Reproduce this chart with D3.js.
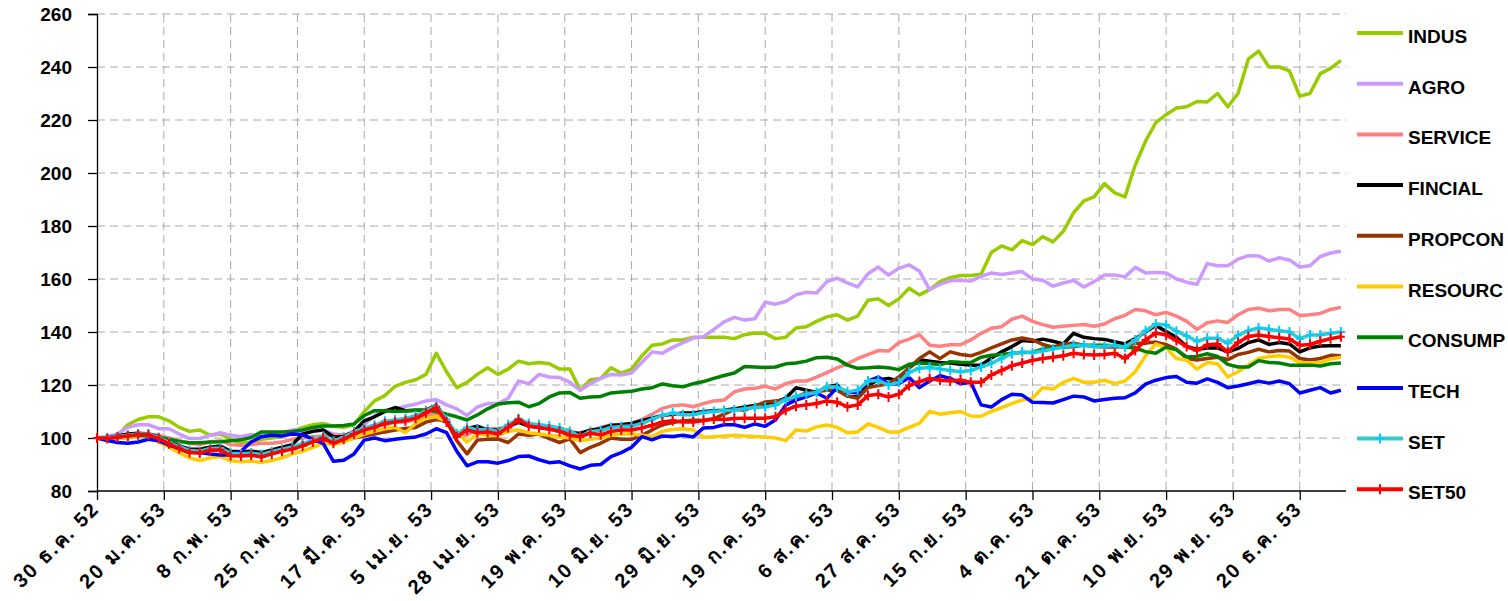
<!DOCTYPE html>
<html>
<head>
<meta charset="utf-8">
<script src="https://cdn.jsdelivr.net/npm/d3@7"></script>
<style>
  body { margin: 0; background: #fff; }
  svg text { font-family: "Liberation Sans", Arial, sans-serif; font-weight: bold; fill: #000; }
</style>
</head>
<body>
<div id="chart"></div>
<script>
// Data (index values, 30 Dec 2009 = 100), one value every second trading day
const tickLabels = ['30 ธ.ค. 52', '20 ม.ค. 53', '8 ก.พ. 53', '25 ก.พ. 53', '17 มี.ค. 53', '5 เม.ย. 53',
    '28 เม.ย. 53', '19 พ.ค. 53', '10 มิ.ย. 53', '29 มิ.ย. 53', '19 ก.ค. 53', '6 ส.ค. 53', '27 ส.ค. 53',
    '15 ก.ย. 53', '4 ต.ค. 53', '21 ต.ค. 53', '10 พ.ย. 53', '29 พ.ย. 53', '20 ธ.ค. 53'];
const tickEvery = 13; // trading days between category labels
const dayStep = 2;
const totalDays = 243;

const indus = [100, 100.5, 101, 105, 107, 108, 108, 106.5, 104, 102.5,
    103, 101, 101.5, 99.5, 98, 98.5, 99.5, 100, 100.5, 102.5,
    104, 105, 105.5, 104.5, 104, 105, 110, 114, 116, 119.5,
    121, 122, 124, 132, 125, 119, 121, 124, 126.5, 124,
    126, 129, 128, 128.5, 128, 126, 126, 118, 122, 122.5,
    126.5, 124.5, 126, 131, 135, 135.5, 137, 137, 138, 138,
    138, 138, 137.5, 139, 139.6, 139.5, 137.5, 138, 141.5, 142,
    144, 145.7, 146.5, 144.5, 146, 152, 152.5, 150, 152.5, 156.5,
    154, 156, 159, 160.5, 161.3, 161.3, 161.8, 170, 172.5, 171,
    174.5, 173, 176, 174, 178, 185, 189.5, 191, 196, 192.5,
    191, 203, 212, 219, 222, 224.5, 225, 227, 226.8, 230,
    225, 230, 243, 246, 240, 240, 238.5, 229, 230, 237.5,
    239.5, 242.5];

const agro = [100, 100.5, 101.5, 104, 105, 105, 103.5, 103.5, 101.5, 99.8,
    99.8, 101, 102, 101, 100.5, 101.3, 100.8, 101.5, 102, 103,
    103.2, 103, 103, 101.5, 101, 102, 105, 108.5, 110.5, 111,
    112, 112.8, 114, 114.5, 112.5, 111, 108.5, 111.7, 113, 113,
    115, 121.5, 120.5, 124, 123, 122.8, 121, 118, 120.5, 122.5,
    124, 123.8, 124.5, 128.5, 132.5, 132, 134.2, 136, 137.7, 138.2,
    141, 143.8, 145.5, 144.5, 145, 151.2, 150.5, 151.5, 154, 155,
    154.7, 159, 160.3, 158.5, 157, 162, 164.5, 161.5, 164, 165.3,
    163, 156, 158, 159.3, 159.5, 159.2, 161, 162.3, 161.7, 162.3,
    162.8, 160, 159.5, 157.3, 158.5, 159.5, 157, 159, 161.5, 161.5,
    160.8, 164.4, 162.3, 162.5, 162.3, 160, 158.8, 158, 165.8, 165,
    165, 167.5, 168.8, 168.7, 166.8, 168, 167.2, 164.5, 165, 168.5,
    169.8, 170.5];

const service = [100, 99.8, 100, 100.5, 101.3, 101.5, 101, 100, 99, 98,
    97.5, 98.5, 99, 97.5, 97.3, 97.5, 98, 98, 98.5, 99.5,
    100, 100.5, 100.8, 101, 101, 102, 103.5, 104.5, 105, 106,
    106, 107, 108, 109.5, 106, 101, 101, 103.5, 103.5, 103.5,
    104, 106, 104.5, 104, 103.5, 103, 103, 100.5, 102.5, 104,
    105, 105, 105.5, 107, 109, 111.2, 112.2, 112.5, 111.8, 113,
    114, 114.3, 117.4, 118.5, 118.8, 119.5, 118.5, 120.5, 121.5, 121.5,
    123, 124.7, 126.5, 128, 130, 131.5, 133, 132.8, 136, 137.3,
    139, 135, 134.6, 135.2, 135.2, 137, 139.5, 141.4, 142, 144.8,
    146, 144, 142.8, 141.8, 142.2, 142.5, 142.8, 142.2, 143, 145,
    146.3, 148.5, 148, 146.5, 147.4, 146, 144, 141, 143.5, 144.2,
    143.6, 146.5, 148.5, 149, 148, 148.5, 148.5, 146.2, 146.5, 147,
    148.5, 149.3];

const fincial = [100, 100, 100.8, 101.5, 101.8, 101.5, 100.5, 98.5, 97, 95.8,
    95.8, 96.5, 97, 95, 94.8, 95, 94.5, 95.5, 96.5, 97.5,
    101.5, 102.5, 103, 100.5, 100.5, 102.5, 106.5, 108, 110, 111.5,
    110.3, 110.5, 110.5, 112.3, 107, 100.5, 103.5, 104.5, 103, 103,
    104.5, 106, 104.5, 104, 103.5, 103, 102, 101.8, 103, 103.5,
    104.7, 105, 105.5, 106.5, 107.5, 108.5, 109, 109.4, 109.4, 110,
    110.3, 110.5, 111, 111.7, 112.3, 112.8, 113.5, 115, 119, 118,
    117.2, 119.3, 120, 115.8, 115.5, 119.8, 122, 122.5, 121.5, 126.5,
    129.5, 129, 128.5, 128.3, 127.8, 127.5, 127.5, 130.2, 132.5, 134.5,
    136.8, 136.5, 137.3, 136.5, 135.5, 139.5, 138, 137.5, 137.2, 136.3,
    135.5, 137.5, 140, 142.5, 140.2, 138, 134.5, 133.5, 134, 134,
    132.5, 133.8, 136, 137, 135.3, 136, 135.5, 132.5, 134, 134.7,
    134.8, 134.8];

const propcon = [100, 100, 100.5, 101, 101.3, 101, 99.8, 97.5, 95.8, 94.5,
    94.5, 95.5, 95.5, 93.8, 93.5, 93.8, 93.3, 94.5, 95.5, 96.2,
    97.5, 98.8, 99, 98.5, 99, 100, 100.7, 101.5, 102.3, 103,
    103.6, 104, 106, 107, 106.4, 99, 94, 99.2, 99.5, 99.6,
    98.3, 101.5, 101, 101.5, 99.8, 98.3, 99.7, 94.5, 96.5, 98,
    100, 99.5, 99.5, 101, 103, 105, 105.8, 106.5, 106.7, 106.6,
    107.3, 109, 110.8, 110.5, 112, 113.6, 114, 114.3, 115.5, 117,
    117.5, 118, 118, 115.8, 115, 119, 119.8, 120.5, 123, 126.5,
    130, 132.5, 130, 132.5, 131.5, 131, 132.3, 134, 135.5, 137,
    137.7, 137, 135.3, 134.3, 135.5, 135.8, 135, 134.5, 134.3, 134.3,
    134.5, 135.8, 135.8, 136.2, 135.2, 133.5, 130, 129.4, 130, 130.5,
    129.6, 131.5, 132.3, 133.5, 132.5, 133, 132.8, 130, 129.4, 130,
    131.2, 131];

const resourc = [100, 99.5, 99.8, 100, 100.5, 100.5, 98.5, 96.5, 94.5, 92.5,
    91.5, 92.5, 93, 91.5, 91, 91.3, 90.8, 91.5, 92.5, 94,
    95, 96.5, 98, 97.5, 98.5, 100, 101.5, 102.5, 103.5, 104,
    102, 105.5, 107.5, 108, 106, 102, 98.5, 101.5, 101, 101,
    102.5, 103, 102, 101.5, 101, 100.5, 100, 99, 99.5, 100,
    101, 101.5, 101.5, 101, 100.5, 102.5, 103.2, 103.5, 103, 100.3,
    100.5, 100.8, 101, 100.8, 100.6, 100.4, 100, 99, 103, 102.6,
    104.2, 104.9, 104, 102, 102.3, 105.3, 104, 102.3, 102.3, 104,
    105.5, 110, 109, 109.5, 110, 108.3, 108.2, 110, 111.5, 113,
    114.3, 115, 119, 118.5, 121, 122.5, 121, 121, 121.8, 120.5,
    121.5, 125, 131, 135.5, 134, 130, 129.4, 126, 128.5, 128,
    123, 125, 127.5, 130, 130.7, 131, 130.5, 128.5, 128.3, 128.5,
    129.8, 130.5];

const consump = [100, 100, 100.3, 100.8, 101, 100.8, 100.3, 99.5, 98.7, 98.2,
    98.2, 98.5, 98.6, 99, 99.3, 100.2, 102.3, 102.3, 102.3, 102.5,
    103, 104, 104.5, 104.5, 104.7, 105.3, 108.5, 110.3, 110.3, 110,
    110.2, 110.5, 110.5, 110, 109, 108, 106.8, 108.7, 111, 112.8,
    113.3, 113.5, 111.8, 113, 115.5, 117, 117.2, 115, 115.5, 115.7,
    117, 117.4, 117.6, 118.5, 119, 120.4, 119.7, 119.3, 120.5, 121.3,
    122.5, 123.6, 124.5, 127, 126.8, 126.6, 126.8, 128, 128.3, 129,
    130.3, 130.5, 129.8, 127.5, 126.3, 126.5, 126.8, 126.5, 125.8, 127.8,
    128.3, 128.1, 127.6, 128.8, 128.6, 128.5, 130.5, 131.2, 131.5, 132,
    132.3, 132.4, 133.5, 134, 134.2, 134.5, 135, 135, 135, 134.8,
    134.3, 134, 132.6, 132, 134.3, 133.3, 130.6, 130.8, 131.8, 130.8,
    127.8, 126.8, 126.8, 129.2, 128.5, 128.3, 127.5, 127.5, 127.5, 127.2,
    128, 128.3];

const tech = [100, 99, 98.3, 98, 98.5, 99.5, 99, 97.3, 96, 94.8,
    94.5, 94, 93.6, 93.6, 95, 98.5, 100.5, 101, 100.8, 101.5,
    101.3, 99.5, 98, 91.2, 91.6, 94, 99.2, 100, 99, 99.5,
    100, 100.4, 101.5, 103.5, 102, 95, 89.5, 91, 91, 90.5,
    91.5, 93, 93.2, 91.8, 90.7, 91, 89.5, 88.3, 89.7, 90,
    93, 94.5, 96.5, 100.5, 99.3, 100.8, 100.6, 101, 100.4, 103.8,
    104, 105, 105, 104, 105.3, 104.4, 106.8, 112.5, 114.3, 115.5,
    117, 115, 119, 117.5, 117, 121.5, 123, 120.3, 120.5, 122.8,
    119, 121.5, 123.5, 122.5, 120.5, 121, 112.5, 111.7, 114.5, 116.5,
    116.2, 113.5, 113.4, 113.2, 114.5, 115.8, 115.5, 114, 114.5, 115,
    115.2, 117, 120.3, 121.8, 122.8, 123.2, 121, 120.7, 122.3, 121,
    119, 119.6, 120.5, 121.4, 120.7, 121.5, 120.5, 117, 118, 119,
    117, 118];

const set = [100, 100, 100.5, 101, 101.5, 101.5, 100.2, 98.3, 96.7, 95.3,
    95, 96, 96.2, 94.2, 94, 94.3, 93.8, 94.8, 95.8, 96.6,
    97.8, 99.2, 100.7, 98.8, 100.3, 102.3, 103.8, 104.8, 106.3, 106.8,
    107.4, 108.4, 110.3, 112, 107, 101.5, 104, 103, 103.3, 102.5,
    105, 107.3, 105.5, 105, 104.5, 103.8, 102.5, 100.5, 102.5, 102.8,
    104, 104.3, 104.5, 105.5, 107, 108.5, 109.5, 108.8, 108.8, 109.6,
    110, 110.4, 110.6, 111, 111.5, 111.7, 112.5, 114.5, 115.8, 116.5,
    117.2, 119.3, 119.2, 117.5, 118, 121.5, 121.7, 120, 121, 124.8,
    126.3, 126.6, 126, 125.5, 125, 125.5, 126.8, 128.2, 130, 131.8,
    132.5, 132.2, 132.8, 133.6, 134.3, 135, 135, 134.6, 134.5, 135,
    134.3, 137, 140.5, 143, 142.6, 140.3, 138.5, 136.5, 137.6, 137.6,
    135.8, 138.8, 140.5, 141.5, 141, 140.5, 140, 137.5, 138.9, 138.9,
    139.5, 140];

const set50 = [100, 99.8, 100.3, 100.8, 101.2, 101.2, 99.8, 97.8, 96, 94.5,
    94.3, 95.5, 95.5, 93.3, 93.2, 93.5, 92.8, 94, 95, 95.8,
    97, 98.5, 100, 98, 99.5, 101.5, 103, 104, 105.5, 106,
    106.5, 107.5, 109.5, 111.5, 106, 100.5, 103, 102, 102.3, 101.5,
    104, 107, 104.5, 104, 103.3, 102.5, 101, 100.5, 101.8, 101.2,
    102.5, 103, 103, 103.8, 104.8, 106, 106.5, 106, 106, 106.6,
    107.2, 107, 107.4, 107.5, 107.5, 107.5, 108, 110.5, 112, 112.5,
    113, 114, 113.5, 111.8, 112.5, 116, 116.5, 115.5, 116.5, 119.8,
    121.3, 122.5, 121.8, 121.5, 121.9, 121, 121, 123.8, 125.5, 127.3,
    128.3, 129.3, 130, 130.5, 131, 132, 131.5, 131.3, 131.5, 132,
    130, 133, 137, 139.6, 138.9, 136.8, 134.5, 133, 135.2, 135.5,
    132.5, 136, 138.3, 138.9, 138.3, 137.8, 137.4, 135, 135.3, 136.5,
    137.5, 138.2];

const seriesNames = ['INDUS', 'AGRO', 'SERVICE', 'FINCIAL', 'PROPCON', 'RESOURC', 'CONSUMP', 'TECH', 'SET', 'SET50'];
const seriesValues = [indus, agro, service, fincial, propcon, resourc, consump, tech, set, set50];
const seriesColors = ['#99CC00', '#CC99FF', '#FF8080', '#000000', '#993300', '#FFCC00', '#008000', '#0000FF', '#33CCCC', '#FF0000'];
const markerColors = [null, null, null, null, null, null, null, null, '#00CCFF', '#FF0000'];

// Layout
const width = 1508;
const height = 601;
const margin = { top: 14, right: 162, bottom: 110, left: 97 };
const innerWidth = width - margin.left - margin.right;
const innerHeight = height - margin.top - margin.bottom;

const series = seriesNames.map((name, i) => ({
    name: name,
    color: seriesColors[i],
    marker: markerColors[i],
    values: seriesValues[i].map((v, j) => ({ day: j * dayStep, value: v }))
}));

const svg = d3.select('#chart')
    .append('svg')
        .attr('width', width)
        .attr('height', height);

const chartGroup = svg.append('g')
    .attr('transform', `translate(${margin.left}, ${margin.top})`);

// Scales
const xScale = d3.scaleLinear()
    .domain([0, totalDays])
    .range([0, innerWidth]);

const yScale = d3.scaleLinear()
    .domain([80, 260])
    .range([innerHeight, 0]);

const tickDays = d3.range(0, tickLabels.length).map(i => i * tickEvery);
const yTicks = d3.range(80, 261, 20);

// Gridlines (dashed)
chartGroup.append('g')
    .selectAll('line')
    .data(yTicks.filter(d => d > 80))
    .enter().append('line')
        .attr('x1', 0)
        .attr('x2', innerWidth)
        .attr('y1', d => yScale(d))
        .attr('y2', d => yScale(d))
        .attr('stroke', '#aaaaaa')
        .attr('stroke-width', 1)
        .attr('stroke-dasharray', '8,5');

chartGroup.append('g')
    .selectAll('line')
    .data(tickDays.filter(d => d > 0))
    .enter().append('line')
        .attr('x1', d => xScale(d))
        .attr('x2', d => xScale(d))
        .attr('y1', 0)
        .attr('y2', innerHeight)
        .attr('stroke', '#aaaaaa')
        .attr('stroke-width', 1)
        .attr('stroke-dasharray', '8,5');

// Axes
const yAxis = d3.axisLeft(yScale)
    .tickValues(yTicks)
    .tickSize(9)
    .tickPadding(16);

const yAxisGroup = chartGroup.append('g').call(yAxis);
yAxisGroup.selectAll('text').attr('font-size', 19);

const xAxis = d3.axisBottom(xScale)
    .tickValues(tickDays)
    .tickSize(9)
    .tickFormat((d, i) => tickLabels[i]);

const xAxisGroup = chartGroup.append('g')
    .attr('transform', `translate(0, ${innerHeight})`)
    .call(xAxis);
xAxisGroup.select('.domain').attr('d', `M0,0H${innerWidth}`);
xAxisGroup.selectAll('text')
    .attr('font-size', 20)
    .attr('letter-spacing', 2)
    .attr('text-anchor', 'end')
    .attr('dy', 0)
    .attr('y', 0)
    .attr('transform', 'translate(3, 19) rotate(-45)');

svg.selectAll('.domain, .tick line').attr('stroke', '#000').attr('stroke-width', 1.3);

// Lines
const line = d3.line()
    .x(d => xScale(d.day))
    .y(d => yScale(d.value));

const seriesGroup = chartGroup.append('g');
series.forEach(s => {
    seriesGroup.append('path')
        .datum(s.values)
        .attr('fill', 'none')
        .attr('stroke', s.color)
        .attr('stroke-width', 3.5)
        .attr('stroke-linejoin', 'round')
        .attr('d', line);

    if (s.marker) {
        seriesGroup.append('g')
            .selectAll('path')
            .data(s.values)
            .enter().append('path')
                .attr('transform', d => `translate(${xScale(d.day)}, ${yScale(d.value)})`)
                .attr('d', 'M-4,0H4M0,-5V5')
                .attr('stroke', s.marker)
                .attr('stroke-width', 2);
    }
});

// Legend
const legendX = 1357;
const legendTop = 33;
const legendStep = 50.7;

const legend = svg.append('g')
    .selectAll('g')
    .data(series)
    .enter().append('g')
        .attr('transform', (d, i) => `translate(${legendX}, ${legendTop + i * legendStep})`);

legend.append('line')
    .attr('x1', 0)
    .attr('x2', 46)
    .attr('stroke', d => d.color)
    .attr('stroke-width', 4);

legend.filter(d => d.marker).append('path')
    .attr('d', 'M19,0H27M23,-5V5')
    .attr('stroke', d => d.marker)
    .attr('stroke-width', 2);

legend.append('text')
    .text(d => d.name)
    .attr('x', 51)
    .attr('y', 10)
    .attr('font-size', 19);
</script>
</body>
</html>
